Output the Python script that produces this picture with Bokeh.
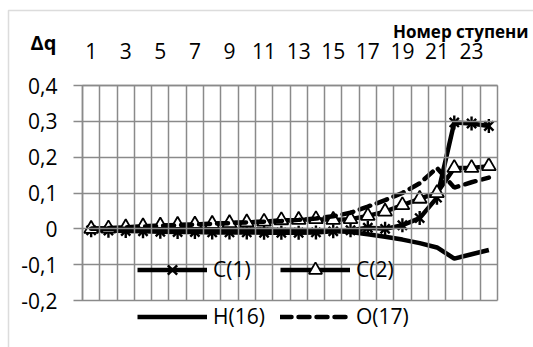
import math
from bokeh.plotting import figure
from bokeh.models import (Range1d, FixedTicker, Legend, LegendItem, Label, LinearAxis,
                          BoxAnnotation, CustomJSTickFormatter)
from bokeh.embed import file_html
from bokeh.resources import INLINE

# ---- data ----
steps = list(range(1, 25))
x_tick_labels = [1, 3, 5, 7, 9, 11, 13, 15, 17, 19, 21, 23]
y_ticks = [-0.2, -0.1, 0.0, 0.1, 0.2, 0.3, 0.4]

c1 = [-0.004, -0.005, -0.006, -0.007, -0.008, -0.009, -0.009, -0.01, -0.01, -0.01,
      -0.011, -0.011, -0.011, -0.01, -0.007, -0.004, 0.003, 0.0, 0.01, 0.03,
      0.087, 0.297, 0.294, 0.287]
c2 = [0.0, 0.001, 0.004, 0.007, 0.009, 0.011, 0.012, 0.014, 0.016, 0.018,
      0.02, 0.024, 0.025, 0.027, 0.025, 0.027, 0.036, 0.048, 0.066, 0.084,
      0.1, 0.17, 0.17, 0.175]
h16 = [0.0, 0.0, 0.0, -0.001, -0.001, -0.001, -0.001, -0.002, -0.002, -0.002,
       -0.002, -0.003, -0.003, -0.004, -0.006, -0.009, -0.015, -0.022, -0.03, -0.04,
       -0.052, -0.083, -0.071, -0.059]
o17 = [0.0, 0.002, 0.004, 0.006, 0.008, 0.01, 0.012, 0.014, 0.016, 0.018,
       0.02, 0.022, 0.025, 0.029, 0.035, 0.045, 0.062, 0.08, 0.1, 0.127,
       0.17, 0.115, 0.13, 0.143]

FONT = "Open Sans"
GRID = "#8a8a8a"

# canvas geometry: plot area spans x 82..497 px and y 85..300 px of a 533x347 canvas
W, H = 533, 347
PL, PR, PT, PB = 82, 497, 85, 300
X0, X1 = 0.5, 24.5
Y0, Y1 = -0.2, 0.4
xs = (PR - PL) / (X1 - X0)
ys = (PB - PT) / (Y1 - Y0)
x_range = Range1d(X0 - PL / xs, X1 + (W - PR) / xs)
y_range = Range1d(Y0 - (H - PB) / ys, Y1 + PT / ys)

p = figure(width=W, height=H, x_range=x_range, y_range=y_range,
           x_axis_type=None, y_axis_type=None,
           output_backend="svg", toolbar_location=None, min_border=0)
p.background_fill_color = "white"
p.border_fill_color = "white"
p.outline_line_alpha = 0
p.grid.visible = False

# y axis (at the left edge of the plot area); long inward ticks act as gridlines
ya = LinearAxis(fixed_location=X0, bounds=(Y0, Y1), ticker=FixedTicker(ticks=y_ticks))
ya.formatter = CustomJSTickFormatter(code="""
const s = tick.toFixed(1);
if (s == "0.0" || s == "-0.0") return "0";
return s.replace(".", ",");
""")
ya.axis_line_color = GRID
ya.axis_line_width = 1.5
ya.major_tick_out = 9
ya.major_tick_in = PR - PL
ya.minor_tick_out = 0
ya.minor_tick_in = 0
ya.major_tick_line_color = GRID
ya.major_tick_line_width = 1.5
ya.major_label_standoff = 16
ya.major_label_text_font = FONT
ya.major_label_text_font_size = "21px"
ya.major_label_text_color = "black"
p.add_layout(ya, "left")

# category boundaries (vertical gridlines) on a top axis
xg = LinearAxis(fixed_location=Y1, bounds=(X0, X1),
                ticker=FixedTicker(ticks=[i + 0.5 for i in range(0, 25)]))
xg.major_tick_out = 0
xg.major_tick_in = PB - PT
xg.minor_tick_out = 0
xg.minor_tick_in = 0
xg.major_tick_line_color = GRID
xg.major_tick_line_width = 1.5
xg.axis_line_color = GRID
xg.axis_line_width = 1.5
xg.major_label_text_alpha = 0
p.add_layout(xg, "above")

# step-number labels on top
xa = LinearAxis(fixed_location=Y1, bounds=(X0, X1), ticker=FixedTicker(ticks=x_tick_labels))
xa.major_tick_out = 0
xa.major_tick_in = 0
xa.minor_tick_out = 0
xa.minor_tick_in = 0
xa.axis_line_alpha = 0
xa.major_label_standoff = 27
xa.major_label_text_font = FONT
xa.major_label_text_font_size = "21px"
xa.major_label_text_color = "black"
p.add_layout(xa, "above")

LW = 4.5
r_c1l = p.line(steps, c1, line_color="black", line_width=LW)
r_c1x = p.scatter(steps, c1, marker="x", size=13, line_color="black", line_width=2.4)
r_c1v = p.scatter(steps, c1, marker="dash", size=14, angle=math.pi / 2,
                  line_color="black", line_width=2.4)
r_c2l = p.line(steps, c2, line_color="black", line_width=LW)
r_c2m = p.scatter(steps, c2, marker="triangle", size=14, fill_color="white",
                  line_color="black", line_width=1.8)
r_h = p.line(steps, h16, line_color="black", line_width=LW)
r_o = p.line(steps, o17, line_color="black", line_width=LW, line_dash="11 7",
             line_cap="round")

common = dict(orientation="vertical", glyph_width=70, glyph_height=33, spacing=14,
              padding=0, margin=0, label_standoff=6, label_text_font=FONT,
              label_text_font_size="21px", label_text_color="black",
              background_fill_alpha=0, border_line_alpha=0)
leg1 = Legend(items=[LegendItem(label="C(1)", renderers=[r_c1l, r_c1x, r_c1v]),
                     LegendItem(label="H(16)", renderers=[r_h])],
              location=(137, 14.5), **common)
leg2 = Legend(items=[LegendItem(label="C(2)", renderers=[r_c2l, r_c2m]),
                     LegendItem(label="O(17)", renderers=[r_o])],
              location=(280, 14.5), **common)
p.add_layout(leg1)
p.add_layout(leg2)

p.add_layout(Label(x=43, y=H - 42, x_units="screen", y_units="screen", text="Δq",
                   text_align="center", text_baseline="middle", text_font=FONT,
                   text_font_style="bold", text_font_size="20px", text_color="black"))
p.add_layout(Label(x=528, y=H - 31, x_units="screen", y_units="screen", text="Номер ступени",
                   text_align="right", text_baseline="middle", text_font=FONT,
                   text_font_style="bold", text_font_size="17px", text_color="black"))

p.add_layout(BoxAnnotation(left=8, right=700, top=H - 10, bottom=-100,
                           left_units="screen", right_units="screen",
                           top_units="screen", bottom_units="screen",
                           fill_alpha=0, line_color=GRID, line_width=1.5))

open("out.html", "w").write(file_html(p, INLINE))
